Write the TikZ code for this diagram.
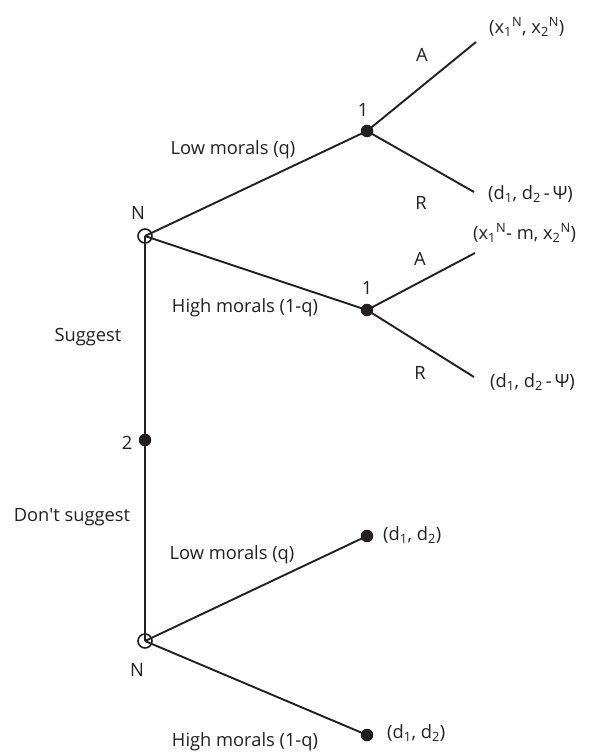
\documentclass[tikz,border=0pt]{standalone}
\usepackage{fontspec}
\setmainfont{Open Sans}
\definecolor{ink}{HTML}{231F20}
\newcommand{\pay}[2]{(#1, #2)}
\begin{document}
\begin{tikzpicture}[x=1pt, y=-1pt, ink,
    edge/.style={line width=1.9pt},
    chance/.style={circle, draw, line width=1.6pt, inner sep=0pt, minimum size=14pt},
    player/.style={circle, fill, inner sep=0pt, minimum size=12.5pt},
    lbl/.style={inner sep=0pt, font=\fontsize{18.3}{21}\selectfont},
    payoff/.style={lbl, anchor=west}]
    \useasboundingbox (0,0) rectangle (595,753);

    % Nature and player 2
    \node[chance] (nup) at (145,236) {};
    \node[player] (two) at (145,440) {};
    \node[chance] (ndown) at (145,641) {};

    % player 1 after a suggestion
    \node[player] (onelow) at (367,131) {};
    \node[player] (onehigh) at (367,310) {};

    % terminal ends
    \coordinate (lowA) at (476,42);
    \coordinate (lowR) at (474,192);
    \coordinate (highA) at (475,253);
    \coordinate (highR) at (474,377);
    \node[player] (endlow) at (367,536) {};
    \node[player] (endhigh) at (367,735) {};

    % branches
    \draw[edge] (nup.center) -- (two.center) -- (ndown.center);
    \draw[edge] (nup.center) -- (onelow.center);
    \draw[edge] (nup.center) -- (onehigh.center);
    \draw[edge] (onelow.center) -- (lowA);
    \draw[edge] (onelow.center) -- (lowR);
    \draw[edge] (onehigh.center) -- (highA);
    \draw[edge] (onehigh.center) -- (highR);
    \draw[edge] (ndown.center) -- (endlow.center);
    \draw[edge] (ndown.center) -- (endhigh.center);

    % player and move labels
    \node[lbl] (nuplbl) at (138,213) {N};
    \node[lbl] (ndownlbl) at (137,670) {N};
    \node[lbl] (twolbl) at (127,443) {2};
    \node[lbl] (onelowlbl) at (363,110) {1};
    \node[lbl] (onehighlbl) at (367,288) {1};
    \node[lbl] (suggest) at (88,337) {Suggest};
    \node[lbl] (dont) at (72,517) {Don\textquotesingle t suggest};
    \node[lbl] (lowup) at (233,150) {Low morals (q)};
    \node[lbl] (highup) at (245,308) {High morals (1-q)};
    \node[lbl] (lowdown) at (232,555) {Low morals (q)};
    \node[lbl] (highdown) at (245,742) {High morals (1-q)};
    \node[lbl] (accA) at (422,55) {A};
    \node[lbl] (rejR) at (421,203) {R};
    \node[lbl] (accB) at (420,259) {A};
    \node[lbl] (rejS) at (420,373) {R};

    % payoffs
    \node[payoff] (paylowA) at (489,27) {\pay{x\textsubscript{1}\textsuperscript{N}}{x\textsubscript{2}\textsuperscript{N}}};
    \node[payoff] (paylowR) at (488,194) {\pay{d\textsubscript{1}}{d\textsubscript{2}\,-\,Ψ}};
    \node[payoff] (payhighA) at (473,233) {\pay{x\textsubscript{1}\textsuperscript{N}- m}{x\textsubscript{2}\textsuperscript{N}}};
    \node[payoff] (payhighR) at (490,382) {\pay{d\textsubscript{1}}{d\textsubscript{2}\,-\,Ψ}};
    \node[payoff] (payendlow) at (383,535) {\pay{d\textsubscript{1}}{d\textsubscript{2}}};
    \node[payoff] (payendhigh) at (387,733) {\pay{d\textsubscript{1}}{d\textsubscript{2}}};
\end{tikzpicture}
\end{document}
